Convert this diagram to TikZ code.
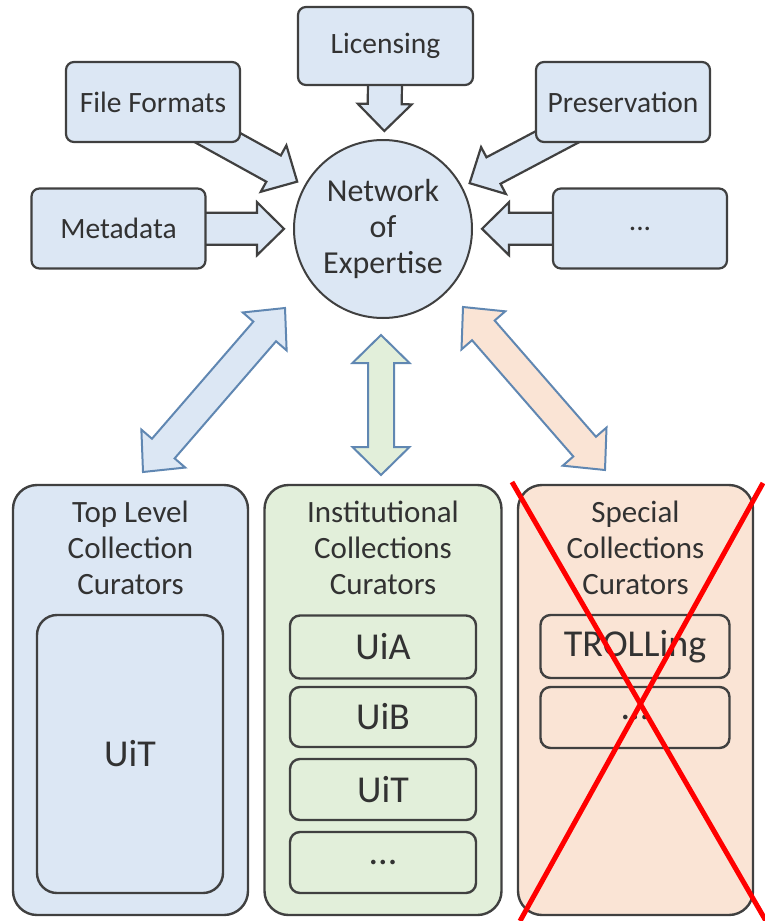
\documentclass[tikz,border=0pt]{standalone}
\usepackage{fontspec}
\setmainfont{Carlito}
\usetikzlibrary{calc}

\definecolor{boxblue}{RGB}{220,231,244}
\definecolor{boxgreen}{RGB}{226,239,218}
\definecolor{boxorange}{RGB}{250,228,213}
\definecolor{edge}{RGB}{64,64,64}
\definecolor{arrowedge}{RGB}{96,135,178}
\definecolor{txt}{RGB}{50,50,50}

\pgfdeclarelayer{bg}
\pgfsetlayers{bg,main}

\tikzset{
  fat w/.store in=\fatw, fat hw/.store in=\fathw, fat h/.store in=\fath,
  fat w=16pt, fat hw=26.5pt, fat h=27pt,
  % outlined block arrow with one head
  fat arrow/.style={to path={let \p1=(\tikztostart), \p2=(\tikztotarget),
      \n1={atan2(\y2-\y1,\x2-\x1)}, \n2={veclen(\x2-\x1,\y2-\y1)-\fath} in
      ($(\p1)+(\n1+90:\fatw)$)
      -- ($(\p1)+(\n1:\n2*1pt)+(\n1+90:\fatw)$)
      -- ($(\p1)+(\n1:\n2*1pt)+(\n1+90:\fathw)$)
      -- (\p2)
      -- ($(\p1)+(\n1:\n2*1pt)+(\n1-90:\fathw)$)
      -- ($(\p1)+(\n1:\n2*1pt)+(\n1-90:\fatw)$)
      -- ($(\p1)+(\n1-90:\fatw)$) -- cycle}},
  % outlined block arrow with heads at both ends
  fat double/.style={to path={let \p1=(\tikztostart), \p2=(\tikztotarget),
      \n1={atan2(\y2-\y1,\x2-\x1)}, \n2={veclen(\x2-\x1,\y2-\y1)-\fath} in
      (\p1)
      -- ($(\p1)+(\n1:\fath)+(\n1+90:\fathw)$)
      -- ($(\p1)+(\n1:\fath)+(\n1+90:\fatw)$)
      -- ($(\p1)+(\n1:\n2*1pt)+(\n1+90:\fatw)$)
      -- ($(\p1)+(\n1:\n2*1pt)+(\n1+90:\fathw)$)
      -- (\p2)
      -- ($(\p1)+(\n1:\n2*1pt)+(\n1-90:\fathw)$)
      -- ($(\p1)+(\n1:\n2*1pt)+(\n1-90:\fatw)$)
      -- ($(\p1)+(\n1:\fath)+(\n1-90:\fatw)$)
      -- ($(\p1)+(\n1:\fath)+(\n1-90:\fathw)$) -- cycle}},
  topbox/.style={draw=edge, line width=2.2pt, fill=boxblue, rounded corners=8pt,
      minimum width=174pt, minimum height=80pt, inner sep=0pt,
      font=\fontsize{29.5}{34}\selectfont, text=txt},
  hub/.style={circle, draw=edge, line width=2pt, fill=boxblue, minimum size=178pt,
      inner sep=0pt, align=center, font=\fontsize{32}{36}\selectfont, text=txt},
  feed/.style={draw=edge, line width=2.2pt, fill=boxblue},
  link/.style={draw=arrowedge, line width=2pt},
  panel/.style={draw=edge, line width=2.4pt, rounded corners=24pt,
      minimum width=235pt, minimum height=430pt, inner sep=0pt},
  header/.style={align=center, font=\fontsize{31}{36}\selectfont, text=txt},
  member/.style={draw=edge, line width=2.4pt, rounded corners=10pt,
      minimum width=186pt, minimum height=62pt, inner sep=0pt,
      font=\fontsize{38}{40}\selectfont, text=txt},
  cross/.style={draw=red, line width=5pt},
}

\begin{document}
\begin{tikzpicture}[x=1pt, y=-1pt, line join=miter]
\useasboundingbox (0,0) rectangle (764,921);

% topic boxes around the hub
\node[hub] (net) at (383,229) {Network\\of\\Expertise};
\node[topbox, minimum width=175pt, minimum height=78pt] (lic) at (385.5,46) {Licensing};
\node[topbox] (ff) at (153,102) {File Formats};
\node[topbox] (pres) at (623,102) {Preservation};
\node[topbox] (md) at (118.5,228.5) {Metadata};
\node[topbox] (etc) at (640,228.5) {...};

% tips of the feeding arrows, just outside the hub
\coordinate (tlic) at ($(net)!98pt!(lic)$);
\coordinate (tff) at ($(net)!98pt!(ff)$);
\coordinate (tpres) at ($(net)!98pt!(pres)$);
\coordinate (tmd) at ($(net)!99pt!(md)$);
\coordinate (tetc) at ($(net)!99pt!(etc)$);

\begin{pgfonlayer}{bg}
  \draw[feed, fat w=17pt, fat hw=27pt] (lic) to[fat arrow] (tlic);
  \draw[feed, fat w=15pt] (ff) to[fat arrow] (tff);
  \draw[feed, fat w=15pt] (pres) to[fat arrow] (tpres);
  \draw[feed] (md) to[fat arrow] (tmd);
  \draw[feed] (etc) to[fat arrow] (tetc);
\end{pgfonlayer}

% curator groups
\node[panel, fill=boxblue] (top) at (130.5,700) {};
\node[panel, fill=boxgreen, minimum width=237pt] (ins) at (383,700) {};
\node[panel, fill=boxorange] (spc) at (635.5,700) {};

\node[header] at (130.5,548) {Top Level\\Collection\\Curators};
\node[header] at (383,548) {Institutional\\Collections\\Curators};
\node[header] at (635.5,548) {Special\\Collections\\Curators};

\node[member, fill=boxblue, minimum height=278pt, rounded corners=20pt] (uit1) at (130,754) {UiT};

\node[member, fill=boxgreen, minimum height=63pt] (uia) at (383,647) {UiA};
\node[member, fill=boxgreen, minimum height=60pt] (uib) at (383,717) {UiB};
\node[member, fill=boxgreen, minimum height=61pt] (uit2) at (383,789.5) {UiT};
\node[member, fill=boxgreen, minimum height=61pt] (imore) at (383,862.5) {...};

\node[member, fill=boxorange, minimum width=189pt, minimum height=63pt] (trol) at (635,646.5) {TROLLing};
\node[member, fill=boxorange, minimum width=189pt, minimum height=61pt] (smore) at (635,717.5) {...};

% links between hub and curator groups
\coordinate (la) at (143,472);
\coordinate (lb) at (285,308);
\coordinate (ma) at (381,335);
\coordinate (mb) at (381,475);
\coordinate (ra) at (463,307);
\coordinate (rb) at (605,470);
\draw[link, fill=boxblue, fat w=15pt, fat hw=29pt, fat h=31pt] (la) to[fat double] (lb);
\draw[link, fill=boxgreen, fat w=13pt, fat hw=28.5pt, fat h=28pt] (ma) to[fat double] (mb);
\draw[link, fill=boxorange, fat w=15pt, fat hw=29pt, fat h=31pt] (ra) to[fat double] (rb);

% strike-through over the special collections
\coordinate (x1) at (512,482);
\coordinate (x2) at (766,921);
\coordinate (x3) at (763,483);
\coordinate (x4) at (520,921);
\draw[cross] (x1) -- (x2);
\draw[cross] (x3) -- (x4);
\end{tikzpicture}
\end{document}
